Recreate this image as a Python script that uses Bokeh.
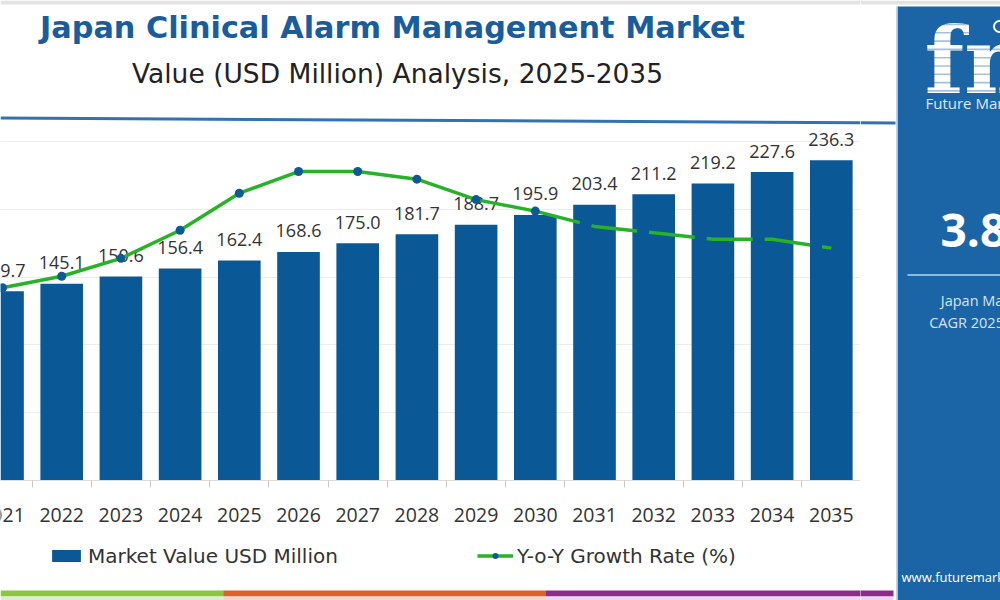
from bokeh.plotting import figure
from bokeh.layouts import row, column
from bokeh.models import (Range1d, FixedTicker, Legend, LegendItem,
                          ColumnDataSource)
from bokeh.embed import file_html
from bokeh.resources import INLINE
from bokeh.core.properties import value

# ---------------------------------------------------------------- data
years = ["2021", "2022", "2023", "2024", "2025", "2026", "2027", "2028",
         "2029", "2030", "2031", "2032", "2033", "2034", "2035"]
market_value = [139.7, 145.1, 150.6, 156.4, 162.4, 168.6, 175.0, 181.7,
                188.7, 195.9, 203.4, 211.2, 219.2, 227.6, 236.3]
yoy_growth = [3.11, 3.20, 3.34, 3.56, 3.85, 4.02, 4.02, 3.96,
              3.80, 3.71, 3.59, 3.54, 3.49, 3.49, 3.42]
value_gridlines = [0, 50, 100, 150, 200, 250]
dashed_from_year = "2030"

title_text = "Japan Clinical Alarm Management Market"
subtitle_text = "Value (USD Million) Analysis, 2025-2035"
cagr_text = "3.8%"
bar_series_name = "Market Value USD Million"
line_series_name = "Y-o-Y Growth Rate (%)"

# ---------------------------------------------------------------- style
FONT = value("Open Sans")
HEAD_FONT = value("DejaVu Sans")
BAR_BLUE = "#0b5896"
MARKER_BLUE = "#0d5a97"
LINE_GREEN = "#27b227"
TITLE_BLUE = "#1a5d9c"
PANEL_BLUE = "#1b65a7"
RULE_BLUE = "#3372b0"
TEXT_DARK = "#333333"
GREY_BAND = "#e3e3e3"
LEFT_W = 860          # plotting column
SIDE_W = 140          # gutter + brand panel
PAGE_W = LEFT_W + SIDE_W


def blank(width, height, x_range, y_top, y_bottom):
    f = figure(width=width, height=height,
               x_range=x_range, y_range=Range1d(y_bottom, y_top),
               x_axis_location=None, y_axis_location=None,
               output_backend="svg", toolbar_location=None,
               min_border=0, outline_line_color=None,
               background_fill_color="white", border_fill_color="white")
    f.grid.visible = False
    return f


def rule_y(x):
    # header rule runs slightly downhill from left to right
    return 117.5 + 5.0 * x / 895


# ---------------------------------------------------------------- header
header = blank(LEFT_W, 128, Range1d(0, LEFT_W), 0, 128)
header.quad(left=0, right=LEFT_W, top=0, bottom=4, fill_color=GREY_BAND,
            line_color=None)
header.text(x=[392], y=[27], text=[title_text], text_align="center",
            text_baseline="middle", text_font=HEAD_FONT,
            text_font_style="bold", text_font_size="30.3px",
            text_color=TITLE_BLUE)
header.text(x=[397], y=[73], text=[subtitle_text], text_align="center",
            text_baseline="middle", text_font=HEAD_FONT,
            text_font_size="26.5px", text_color="#222222")
header.segment(x0=[0], y0=[rule_y(0)], x1=[LEFT_W], y1=[rule_y(LEFT_W)],
               line_color=RULE_BLUE, line_width=3)

# ---------------------------------------------------------------- chart
idx = list(range(len(years)))
src = ColumnDataSource(dict(
    x=idx, value=market_value,
    label=[f"{v:.1f}" for v in market_value],
))
split = years.index(dashed_from_year)
x_scale_range = Range1d(-0.034, 14.493)

chart = figure(frame_width=LEFT_W, frame_height=352,
               x_range=x_scale_range, y_range=Range1d(0, 259.7),
               y_axis_location=None,
               output_backend="svg", toolbar_location=None,
               min_border_left=0, min_border_right=0,
               min_border_top=0, min_border_bottom=8,
               outline_line_color=None,
               background_fill_color="white", border_fill_color="white")
chart.extra_y_ranges = {"growth": Range1d(1.6, 4.357)}

chart.xgrid.visible = False
chart.ygrid.ticker = FixedTicker(ticks=value_gridlines)
chart.ygrid.grid_line_color = "#ececec"

# the axis carries the baseline and the boundary ticks between years
ax = chart.xaxis[0]
ax.ticker = FixedTicker(ticks=idx, minor_ticks=[i - 0.5 for i in range(len(years) + 1)])
ax.major_label_overrides = {i: "" for i in idx}
ax.major_label_text_font_size = "0px"
ax.major_label_standoff = 0
ax.major_tick_out = 0
ax.major_tick_in = 0
ax.minor_tick_out = 7
ax.minor_tick_in = 0
ax.minor_tick_line_color = "#c9c9c9"
ax.axis_line_color = "#dddddd"

bars = chart.vbar(x="x", top="value", bottom=0, width=0.72, source=src,
                  fill_color=BAR_BLUE, line_color=None)
chart.text(x="x", y="value", text="label", source=src, text_align="center",
           text_baseline="middle", y_offset=-21, text_font=FONT,
           text_font_size="18px", text_color=TEXT_DARK)

chart.line(x=idx[:split + 1], y=yoy_growth[:split + 1],
           y_range_name="growth", line_color=LINE_GREEN, line_width=3.5)
chart.line(x=idx[split:], y=yoy_growth[split:], y_range_name="growth",
           line_color=LINE_GREEN, line_width=3.5, line_dash="46 12")
chart.scatter(x=idx[:split + 1], y=yoy_growth[:split + 1],
              y_range_name="growth", size=9, fill_color=MARKER_BLUE,
              line_color=None)

# ---------------------------------------------------------------- year labels + legend
key = blank(LEFT_W, 99, x_scale_range, 488, 587)
key.text(x=idx, y=[514] * len(idx), text=years, text_align="center",
         text_baseline="middle", text_font=FONT, text_font_size="19.5px",
         text_color=TEXT_DARK)
# stand-ins placed far outside the view; they only supply legend swatches
key_bar = key.vbar(x=[5], top=[5010], bottom=[5000], width=1,
                   fill_color=BAR_BLUE, line_color=None)
key_line = key.line(x=[5, 6], y=[5000, 5000], line_color=LINE_GREEN,
                    line_width=3.5)
key_dot = key.scatter(x=[5], y=[5000], size=9, fill_color=MARKER_BLUE,
                      line_color=None)
legend = Legend(items=[LegendItem(label=bar_series_name, renderers=[key_bar]),
                       LegendItem(label=line_series_name, renderers=[key_line, key_dot])],
                orientation="horizontal", location=(48, 19.5),
                glyph_width=36, glyph_height=15, label_standoff=4,
                spacing=139, padding=2, margin=0,
                border_line_color=None, background_fill_alpha=0,
                label_text_font="DejaVu Sans", label_text_font_size="20px",
                label_text_color=TEXT_DARK)
key.add_layout(legend)

# ---------------------------------------------------------------- bottom stripes
stripe_edges = [0, 222.7, 545.5, 893]
stripe_colors = ["#8cc63f", "#de602b", "#8b2c8b"]
stripe_tints = ["#dcefcb", "#f7d6c6", "#efd4ef"]


def draw_stripes(fig):
    fig.quad(left=stripe_edges[:-1], right=stripe_edges[1:],
             top=[590] * 3, bottom=[596] * 3, fill_color=stripe_colors,
             line_color=None)
    fig.quad(left=stripe_edges[:-1], right=stripe_edges[1:],
             top=[596] * 3, bottom=[600] * 3, fill_color=stripe_tints,
             line_color=None)


stripes = blank(LEFT_W, 13, Range1d(0, LEFT_W), 587, 600)
draw_stripes(stripes)

# ---------------------------------------------------------------- side panel
side = blank(SIDE_W, 600, Range1d(LEFT_W, PAGE_W), 0, 600)
side.quad(left=LEFT_W, right=PAGE_W, top=0, bottom=4, fill_color=GREY_BAND,
          line_color=None)
side.segment(x0=[LEFT_W], y0=[rule_y(LEFT_W)], x1=[895], y1=[rule_y(895)],
             line_color=RULE_BLUE, line_width=3)
draw_stripes(side)
side.quad(left=897, right=PAGE_W, top=6, bottom=600, fill_color=PANEL_BLUE,
          line_color=None)
side.segment(x0=[896.5], y0=[6], x1=[896.5], y1=[600],
             line_color="#a9c8e6", line_width=1.5)
# striped logo lettering
side.text(x=[924], y=[60], text=["fmi"], text_baseline="middle",
          text_font=value("DejaVu Serif"), text_font_style="bold",
          text_font_size="92px", text_color="white")
stripe_ys = [24 + 8.3 * k for k in range(9)]
side.segment(x0=[915] * len(stripe_ys), y0=stripe_ys,
             x1=[PAGE_W] * len(stripe_ys), y1=stripe_ys,
             line_color=PANEL_BLUE, line_alpha=0.4, line_width=1.6)
side.scatter(x=[999], y=[26], size=11, marker="circle", fill_color=None,
             line_color="white", line_width=2)
side.text(x=[925], y=[102.5], text=["Future Market Insights"],
          text_baseline="middle", text_font=FONT,
          text_font_size="15px", text_color="#dbe8f5")
side.text(x=[940], y=[228], text=[cagr_text], text_baseline="middle",
          text_font=FONT, text_font_style="bold", text_font_size="46px",
          text_color="white")
side.segment(x0=[907], y0=[274.5], x1=[PAGE_W], y1=[274.5],
             line_color="#8fb8e0", line_width=2)
side.text(x=[985, 985], y=[300, 322], text=["Japan Market", "CAGR 2025-2035"],
          text_align="center", text_baseline="middle", text_font=FONT,
          text_font_size="14.5px", text_color="#d5e4f3")
side.text(x=[901], y=[576], text=["www.futuremarketinsights.com"],
          text_baseline="middle", text_font=FONT,
          text_font_size="13px", text_color="white")

page = row(column(header, chart, key, stripes, spacing=0), side, spacing=0)

with open("out.html", "w") as fh:
    fh.write(file_html(page, INLINE))
